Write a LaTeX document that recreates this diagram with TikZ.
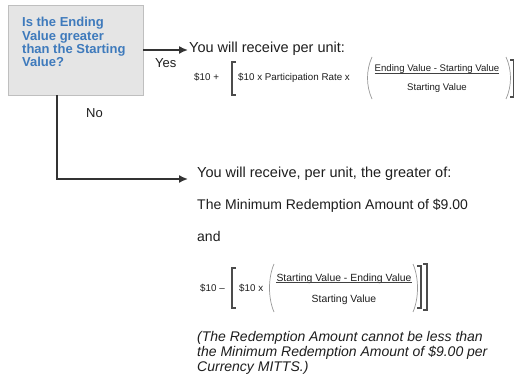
\documentclass[tikz,border=0pt]{standalone}
\usepackage{fontspec}
\setmainfont{Liberation Sans}
\usetikzlibrary{arrows.meta}
\definecolor{qblue}{RGB}{62,122,188}
\definecolor{ink}{RGB}{30,30,30}
\begin{document}
\begin{tikzpicture}[x=1pt,y=-1pt,
  qbox/.style={draw=black!25,fill=black!10,line width=0.8pt,minimum width=135pt,minimum height=90pt,inner sep=0pt},
  qtext/.style={anchor=north west,inner sep=0pt,align=left,text=qblue,font=\bfseries\fontsize{13}{13.4}\selectfont},
  txt/.style={anchor=base west,inner sep=0pt,text=ink,font=\fontsize{14.5}{16}\selectfont},
  txts/.style={anchor=base west,inner sep=0pt,text=ink,font=\fontsize{14}{16}\selectfont},
  lbl/.style={anchor=base west,inner sep=0pt,text=ink,font=\fontsize{13}{15}\selectfont},
  ftxt/.style={anchor=base west,inner sep=0pt,text=ink,font=\fontsize{9.8}{11}\selectfont},
  fnum/.style={anchor=base,inner sep=0pt,text=ink,font=\fontsize{9.6}{11}\selectfont},
  fnumb/.style={anchor=base,inner sep=0pt,text=ink,font=\fontsize{10.4}{11}\selectfont},
  note/.style={anchor=north west,inner sep=0pt,align=left,text=ink,font=\itshape\fontsize{14}{15}\selectfont},
  conn/.style={draw=black!80,line width=1.6pt,-{Latex[length=9pt,width=8pt]}},
  brk/.style={draw=black!70,line width=1.3pt},
  paren/.style={draw=black!40,line width=0.7pt},
  fbar/.style={draw=black!75,line width=0.9pt}
]
\useasboundingbox (0,0) rectangle (514,377);
\fill[white] (0,0) rectangle (514,377);

% question box
\node[qbox] (q) at (75.5,50) {};
\node[qtext] (qt) at (22,17) {Is the Ending\\Value greater\\than the Starting\\Value?};

% yes branch
\coordinate (a1) at (188,50);
\draw[conn] (q.east) -- (a1);
\node[lbl] (yes) at (155,68) {Yes};
\node[txt] (t1) at (189,52.5) {You will receive per unit:};

% formula 1
\node[ftxt] (f1a) at (194,81) {\$10 +};
\draw[brk] (236,62) -- (232,62) -- (232,95) -- (236,95);
\node[ftxt] (f1b) at (238,81) {\$10 x Participation Rate x};
\draw[paren] (372,57) .. controls (366,70) and (366,86) .. (372,99);
\node[fnum] (n1) at (437,72) {Ending Value - Starting Value};
\draw[fbar] ([yshift=1pt]n1.south west) -- ([yshift=1pt]n1.south east);
\node[fnum] (d1) at (437,91) {Starting Value};
\draw[paren] (506,57) .. controls (512,70) and (512,86) .. (506,99);
\draw[brk] (510,60) -- (514,60) -- (514,97) -- (510,97);

% no branch
\node[lbl] (no) at (86,118) {No};
\coordinate (c1) at (57,179);
\coordinate (a2) at (188,179);
\draw[conn] (q.south west -| c1) -- (c1) -- (a2);

\node[txt] (t2) at (197,177.5) {You will receive, per unit, the greater of:};
\node[txts] (t3) at (197,209) {The Minimum Redemption Amount of \$9.00};
\node[txts] (t4) at (197,241) {and};

% formula 2
\node[ftxt] (f2a) at (200,291) {\$10 –};
\draw[brk] (236,268) -- (232,268) -- (232,308) -- (236,308);
\node[ftxt] (f2b) at (239,291) {\$10 x};
\draw[paren] (274,264) .. controls (268,278) and (268,298) .. (274,312);
\node[fnumb] (n2) at (344,281) {Starting Value - Ending Value};
\draw[fbar] ([yshift=1pt]n2.south west) -- ([yshift=1pt]n2.south east);
\node[fnumb] (d2) at (344,302) {Starting Value};
\draw[paren] (413,264) .. controls (419,278) and (419,298) .. (413,312);
\draw[brk] (417,266) -- (421,266) -- (421,308) -- (417,308);
\draw[brk] (423,264) -- (427,264) -- (427,310) -- (423,310);

% note
\node[note] (nt) at (197,331.5) {(The Redemption Amount cannot be less than\\the Minimum Redemption Amount of \$9.00 per\\Currency MITTS.)};
\end{tikzpicture}
\end{document}
